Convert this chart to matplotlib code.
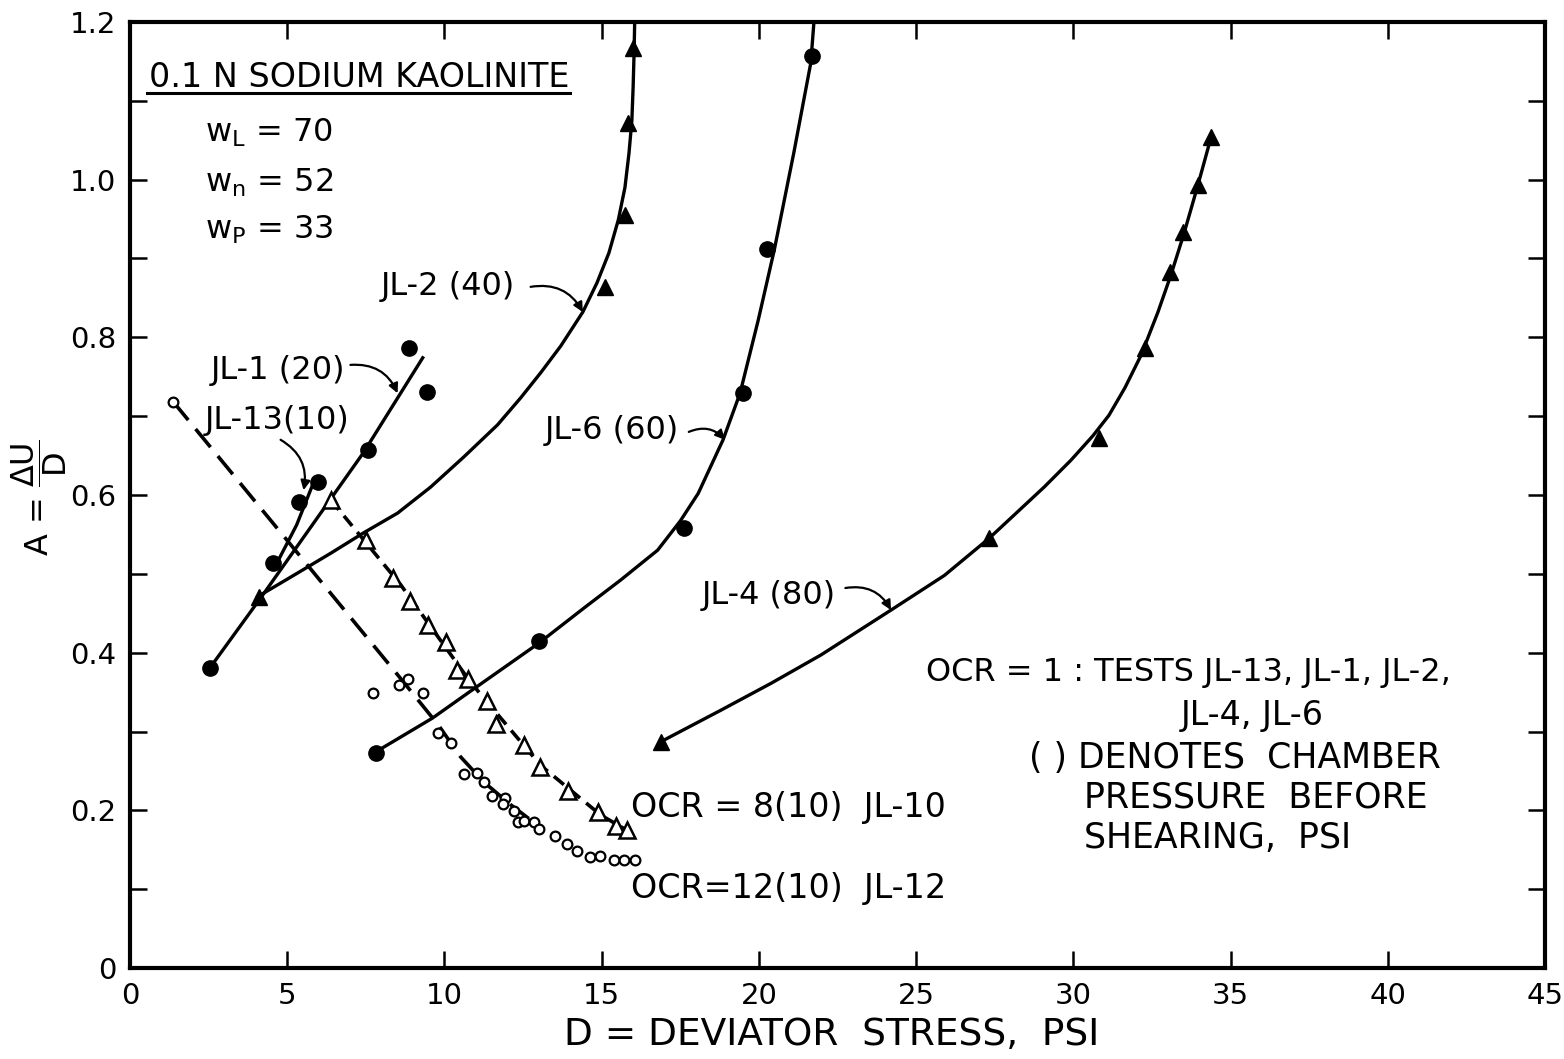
import matplotlib
matplotlib.use("Agg")
import matplotlib.pyplot as plt

plt.rcParams['font.family'] = ['DejaVu Sans']
plt.rcParams['mathtext.default'] = 'regular'

# ---- measured points (D = deviator stress psi, A = du/D) ----
jl13_x = [4.56, 5.36, 5.97]
jl13_y = [0.514, 0.591, 0.616]
jl13_fit_x = [4.69, 5.30, 5.81]
jl13_fit_y = [0.515, 0.562, 0.613]

jl1_x = [2.53, 7.56, 8.86, 9.43]
jl1_y = [0.380, 0.657, 0.786, 0.730]
jl1_fit_x = [2.53, 4.22, 7.43, 9.31]
jl1_fit_y = [0.380, 0.473, 0.654, 0.774]

jl2_x = [4.09, 15.10, 15.73, 15.83, 15.99]
jl2_y = [0.471, 0.864, 0.955, 1.072, 1.167]
jl2_fit_x = [4.06, 5.33, 6.38, 7.43, 8.51, 9.56, 10.61, 11.69, 12.42, 13.06, 13.70, 14.40,
             14.85, 15.23, 15.53, 15.74, 15.87, 15.96, 16.00, 16.03, 16.05]
jl2_fit_y = [0.471, 0.501, 0.526, 0.552, 0.577, 0.610, 0.648, 0.689, 0.723, 0.755, 0.789, 0.832,
             0.869, 0.907, 0.949, 0.990, 1.034, 1.075, 1.117, 1.160, 1.200]

jl6_x = [7.81, 13.00, 17.61, 19.49, 20.25, 21.68]
jl6_y = [0.273, 0.415, 0.558, 0.729, 0.912, 1.157]
jl6_fit_x = [7.81, 9.62, 10.93, 13.00, 14.45, 15.60, 16.78, 17.50, 18.07, 18.86, 19.40,
             19.98, 20.49, 21.11, 21.65, 21.75]
jl6_fit_y = [0.274, 0.317, 0.354, 0.412, 0.457, 0.492, 0.530, 0.567, 0.602, 0.670, 0.729,
             0.822, 0.911, 1.034, 1.148, 1.200]

jl4_x = [16.88, 27.32, 30.81, 32.28, 33.07, 33.49, 33.96, 34.38]
jl4_y = [0.287, 0.545, 0.672, 0.786, 0.883, 0.933, 0.993, 1.054]
jl4_fit_x = [16.88, 18.79, 20.38, 21.97, 24.20, 25.90, 27.32, 29.07, 29.92, 30.62, 31.13,
             31.64, 32.15, 32.69, 33.11, 33.52, 33.96, 34.38]
jl4_fit_y = [0.287, 0.327, 0.361, 0.397, 0.454, 0.498, 0.545, 0.610, 0.644, 0.675, 0.701,
             0.736, 0.777, 0.832, 0.880, 0.932, 0.993, 1.054]

# OCR = 8, JL-10 (open triangles)
jl10_x = [6.38, 7.49, 8.38, 8.92, 9.47, 10.04, 10.39, 10.74, 11.34, 11.63, 12.52, 13.03, 13.92, 14.87, 15.45, 15.80]
jl10_y = [0.594, 0.543, 0.495, 0.465, 0.435, 0.413, 0.378, 0.367, 0.339, 0.309, 0.283, 0.255, 0.224, 0.198, 0.180, 0.175]
jl10_fit_x = [6.38, 8.61, 10.84, 13.06, 14.97, 15.92]
jl10_fit_y = [0.594, 0.486, 0.362, 0.257, 0.194, 0.172]

# OCR = 12, JL-12 (small open circles)
jl12_x = [1.38, 7.72, 8.57, 8.83, 9.31, 9.81, 10.20, 10.61, 11.02, 11.25, 11.50, 11.92, 11.85, 12.20,
          12.33, 12.52, 12.84, 13.00, 13.51, 13.89, 14.21, 14.62, 14.94, 15.38, 15.70, 16.05]
jl12_y = [0.718, 0.349, 0.359, 0.367, 0.349, 0.298, 0.286, 0.246, 0.247, 0.236, 0.218, 0.216, 0.208, 0.199,
          0.185, 0.186, 0.185, 0.176, 0.167, 0.157, 0.148, 0.141, 0.142, 0.137, 0.137, 0.137]
jl12_fit_x = [1.38, 8.51, 9.81, 10.51, 11.25, 12.11, 13.06]
jl12_fit_y = [0.718, 0.372, 0.308, 0.268, 0.236, 0.207, 0.178]

x_ticks = [0, 5, 10, 15, 20, 25, 30, 35, 40, 45]
y_ticks = [0, 0.2, 0.4, 0.6, 0.8, 1.0, 1.2]
y_tick_labels = ["0", "0.2", "0.4", "0.6", "0.8", "1.0", "1.2"]
y_minor = [0.1, 0.3, 0.5, 0.7, 0.9, 1.1]

fig = plt.figure(figsize=(15.64, 10.59), dpi=100)
ax = fig.add_axes([0.0831, 0.0859, 0.9048, 0.8934])

lw = 2.4
# solid fitted curves (OCR = 1)
for fx, fy in [(jl13_fit_x, jl13_fit_y), (jl1_fit_x, jl1_fit_y), (jl2_fit_x, jl2_fit_y),
               (jl6_fit_x, jl6_fit_y), (jl4_fit_x, jl4_fit_y)]:
    ax.plot(fx, fy, color='black', lw=lw, solid_joinstyle='round', zorder=2)

# dashed overconsolidated curves
ax.plot(jl12_fit_x, jl12_fit_y, color='black', lw=2.6, dashes=(6.5, 3.2), zorder=2)
ax.plot(jl10_fit_x, jl10_fit_y, color='black', lw=2.6, dashes=(3.6, 2.2), zorder=2)

# markers
ax.plot(jl13_x, jl13_y, 'o', color='black', ms=11, zorder=3)
ax.plot(jl1_x, jl1_y, 'o', color='black', ms=11, zorder=3)
ax.plot(jl6_x, jl6_y, 'o', color='black', ms=11, zorder=3)
ax.plot(jl2_x, jl2_y, '^', color='black', ms=11, zorder=3)
ax.plot(jl4_x, jl4_y, '^', color='black', ms=11, zorder=3)
ax.plot(jl10_x, jl10_y, '^', mfc='white', mec='black', mew=1.8, ms=11, zorder=3)
ax.plot(jl12_x, jl12_y, 'o', mfc='white', mec='black', mew=1.6, ms=7, zorder=3)

ax.set_xlim(0, 45)
ax.set_ylim(0, 1.2)
ax.set_xticks(x_ticks)
ax.set_xticklabels([str(t) for t in x_ticks])
ax.set_yticks(y_ticks)
ax.set_yticklabels(y_tick_labels)
ax.set_yticks(y_minor, minor=True)
ax.tick_params(axis='both', which='both', direction='in', length=12, width=1.8,
               top=True, right=True, labelsize=21, pad=10)
ax.tick_params(axis='x', which='minor', top=False, bottom=False)
for s in ax.spines.values():
    s.set_linewidth(3)

fs = 23
# material box
ax.text(0.59, 1.129, "0.1 N SODIUM KAOLINITE", fontsize=24, ha='left', va='center')
ax.plot([0.012, 0.311], [0.925, 0.925], transform=ax.transAxes, color='black', lw=2.2)
ax.text(2.4, 1.059, r"$\mathrm{w_L}$ = 70", fontsize=fs, ha='left', va='center')
ax.text(2.4, 0.996, r"$\mathrm{w_n}$ = 52", fontsize=fs, ha='left', va='center')
ax.text(2.4, 0.936, r"$\mathrm{w_P}$ = 33", fontsize=fs, ha='left', va='center')

# curve labels with curved arrows
arrow = dict(arrowstyle='-|>', connectionstyle='arc3,rad=-0.35', color='black',
             lw=1.6, mutation_scale=14, shrinkA=0, shrinkB=0)
ax.text(10.11, 0.864, "JL-2 (40)", fontsize=fs, ha='center', va='center')
ax.annotate('', xy=(14.40, 0.832), xytext=(12.74, 0.864), arrowprops=arrow)
ax.text(4.69, 0.758, "JL-1 (20)", fontsize=fs, ha='center', va='center')
ax.annotate('', xy=(8.51, 0.729), xytext=(7.01, 0.765), arrowprops=arrow)
ax.text(4.69, 0.695, "JL-13(10)", fontsize=fs, ha='center', va='center')
ax.annotate('', xy=(5.52, 0.606), xytext=(4.79, 0.670), arrowprops=arrow)
ax.text(15.32, 0.682, "JL-6 (60)", fontsize=fs, ha='center', va='center')
ax.annotate('', xy=(18.92, 0.670), xytext=(17.77, 0.680), arrowprops=arrow)
ax.text(20.32, 0.473, "JL-4 (80)", fontsize=fs, ha='center', va='center')
ax.annotate('', xy=(24.20, 0.454), xytext=(22.75, 0.482), arrowprops=arrow)

ax.text(15.92, 0.203, "OCR = 8(10)  JL-10", fontsize=24, ha='left', va='center')
ax.text(15.92, 0.101, "OCR=12(10)  JL-12", fontsize=24, ha='left', va='center')

ax.text(25.31, 0.375, "OCR = 1 : TESTS JL-13, JL-1, JL-2,", fontsize=23, ha='left', va='center')
ax.text(33.42, 0.320, "JL-4, JL-6", fontsize=24, ha='left', va='center')
ax.text(28.59, 0.266, "( ) DENOTES  CHAMBER", fontsize=25, ha='left', va='center')
ax.text(30.34, 0.216, "PRESSURE  BEFORE", fontsize=25, ha='left', va='center')
ax.text(30.34, 0.165, "SHEARING,  PSI", fontsize=25, ha='left', va='center')

fig.text(0.532, 0.023, "D = DEVIATOR  STRESS,  PSI", fontsize=27, ha='center', va='center')
fig.text(0.025, 0.53, r"A = $\dfrac{\Delta U}{D}$", fontsize=23, ha='center', va='center', rotation=90)

fig.savefig("out.png", dpi=100)
